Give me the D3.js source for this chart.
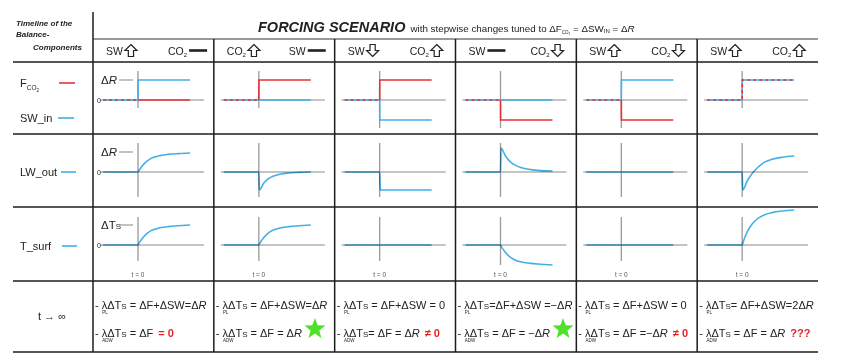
<!DOCTYPE html>
<html>
<head>
<meta charset="utf-8">
<script src="https://cdn.jsdelivr.net/npm/d3@7"></script>
<style>
body { margin: 0; background: #fff; }
text { font-family: "Liberation Sans", Arial, sans-serif; fill: #222; }
.formula { font-size: 11px; }
.curve { fill: none; stroke-width: 1.6; }
.blend { mix-blend-mode: multiply; }
</style>
</head>
<body>
<svg id="chart" width="842" height="364"></svg>
<script>
// column headers: what SW and CO2 do in each scenario
const headFirst = ['SW', 'CO2', 'SW', 'SW', 'SW', 'SW']
const headFirstArrow = ['up', 'up', 'down', 'flat', 'up', 'up']
const headSecond = ['CO2', 'SW', 'CO2', 'CO2', 'CO2', 'CO2']
const headSecondArrow = ['flat', 'flat', 'up', 'down', 'down', 'up']

// forcing row (step functions), in units of ΔR
const tStep = [-3.5, 0, 0.01, 5.2]
const swIn = [
    [0, 0, 1, 1], [0, 0, 0, 0], [0, 0, -1, -1],
    [0, 0, 0, 0], [0, 0, 1, 1], [0, 0, 1, 1]
]
const fCo2 = [
    [0, 0, 0, 0], [0, 0, 1, 1], [0, 0, 1, 1],
    [0, 0, -1, -1], [0, 0, -1, -1], [0, 0, 1, 1]
]

// response rows
const tCurve = [-3.5, 0, 0.05, 0.5, 1, 1.5, 2.2, 3, 4, 5.2]
const lwOut = [
    [0, 0, 0.04, 0.35, 0.58, 0.72, 0.82, 0.88, 0.92, 0.95],
    [0, 0, -0.9, -0.55, -0.32, -0.2, -0.1, -0.05, -0.02, 0],
    [0, 0, -0.9, -0.9, -0.9, -0.9, -0.9, -0.9, -0.9, -0.9],
    [0, 0, 1.2, 0.8, 0.5, 0.33, 0.2, 0.12, 0.07, 0.05],
    [0, 0, 0, 0, 0, 0, 0, 0, 0, 0],
    [0, 0, -0.9, -0.45, -0.08, 0.2, 0.48, 0.64, 0.74, 0.8]
]
const tSurf = [
    [0, 0, 0.05, 0.38, 0.62, 0.76, 0.86, 0.92, 0.96, 1.0],
    [0, 0, 0.05, 0.38, 0.62, 0.76, 0.86, 0.92, 0.96, 1.0],
    [0, 0, 0, 0, 0, 0, 0, 0, 0, 0],
    [0, 0, -0.05, -0.38, -0.62, -0.76, -0.86, -0.92, -0.96, -1.0],
    [0, 0, 0, 0, 0, 0, 0, 0, 0, 0],
    [0, 0, 0.08, 0.65, 1.05, 1.3, 1.5, 1.62, 1.7, 1.75]
]

// t -> infinity balance
const balanceTop = [' = ΔF+ΔSW=ΔR', ' = ΔF+ΔSW=ΔR', ' = ΔF+ΔSW = 0', '=ΔF+ΔSW =−ΔR', ' = ΔF+ΔSW = 0', '= ΔF+ΔSW=2ΔR']
const balanceBottom = [' = ΔF', ' = ΔF = ΔR', '= ΔF = ΔR', ' = ΔF = −ΔR', ' = ΔF =−ΔR', ' = ΔF = ΔR']
const verdicts = ['= 0', 'star', '≠ 0', 'star', '≠ 0', '???']

const BLUE = '#41b0e6', RED = '#e4323a', GRID = '#1c1c1c'

const svg = d3.select('#chart')
const col = d3.scaleBand().domain(d3.range(6)).range([93, 818])
const rowTops = [62, 134, 207]
const rowLines = [62, 134, 207, 281, 352]

// grid
svg.selectAll('.hline').data(rowLines).enter().append('line')
    .attr('x1', 13).attr('x2', 818).attr('y1', d => d).attr('y2', d => d)
    .attr('stroke', GRID).attr('stroke-width', 1.5)
svg.append('line').attr('x1', 93).attr('x2', 818).attr('y1', 39).attr('y2', 39)
    .attr('stroke', '#777').attr('stroke-width', 1.5)
svg.append('line').attr('x1', 93).attr('x2', 93).attr('y1', 12).attr('y2', 352)
    .attr('stroke', GRID).attr('stroke-width', 1.5)
svg.selectAll('.vline').data(d3.range(1, 6)).enter().append('line')
    .attr('x1', d => col(d)).attr('x2', d => col(d)).attr('y1', 39).attr('y2', 352)
    .attr('stroke', GRID).attr('stroke-width', 1.5)

// title
const title = svg.append('text').attr('x', 258).attr('y', 32)
title.append('tspan').attr('font-size', 14.5).attr('font-weight', 'bold').attr('font-style', 'italic')
    .text('FORCING SCENARIO')
title.append('tspan').attr('font-size', 9.8).attr('dx', 5).text('with stepwise changes tuned to ΔF')
title.append('tspan').attr('font-size', 4.5).attr('dy', 2).text('CO₂')
title.append('tspan').attr('font-size', 9.8).attr('dy', -2).text(' = ΔSW')
title.append('tspan').attr('font-size', 6).attr('dy', 1).text('IN')
title.append('tspan').attr('font-size', 9.8).attr('dy', -1).text(' = Δ')
title.append('tspan').attr('font-size', 9.8).attr('font-style', 'italic').text('R')

// top-left caption
const caption = svg.append('g').attr('font-weight', 'bold').attr('font-style', 'italic')
caption.append('text').attr('x', 16).attr('y', 26).attr('font-size', 8).text('Timeline of the')
caption.append('text').attr('x', 16).attr('y', 37).attr('font-size', 8).text('Balance-')
caption.append('text').attr('x', 33).attr('y', 50).attr('font-size', 8).text('Components')

// header arrows
function arrow (g, cx, cy, dir) {
    if (dir === 'flat') {
        g.append('rect').attr('x', cx - 9).attr('y', cy - 1.3).attr('width', 18).attr('height', 2.6).attr('fill', '#222')
        return
    }
    const s = dir === 'up' ? 1 : -1
    const pts = [[0, -6], [6, 0], [2.6, 0], [2.6, 6], [-2.6, 6], [-2.6, 0], [-6, 0]]
    g.append('polygon')
        .attr('points', pts.map(p => `${cx + p[0]},${cy + s * p[1]}`).join(' '))
        .attr('fill', '#fff').attr('stroke', '#222').attr('stroke-width', 1.2)
}

function headLabel (g, x, label, dir) {
    const t = g.append('text').attr('x', x).attr('y', 55).attr('font-size', 10.5)
    if (label === 'CO2') {
        t.append('tspan').text('CO')
        t.append('tspan').attr('font-size', 6).attr('dy', 1.5).text('2')
    } else {
        t.text(label)
    }
    const end = x + t.node().getComputedTextLength()
    arrow(g, end + (dir === 'flat' ? 11 : 8), 50.5, dir)
}

d3.range(6).forEach(c => {
    const g = svg.append('g')
    headLabel(g, col(c) + 13, headFirst[c], headFirstArrow[c])
    headLabel(g, col(c) + 75, headSecond[c], headSecondArrow[c])
})

// row labels
function rowLabel (x, y, parts, lineX, color) {
    const t = svg.append('text').attr('x', x).attr('y', y).attr('font-size', 11)
    parts.forEach(p => t.append('tspan').attr('font-size', p.size || 11).attr('dy', p.dy || 0).text(p.text))
    svg.append('line').attr('x1', lineX[0]).attr('x2', lineX[1]).attr('y1', y - 4).attr('y2', y - 4)
        .attr('stroke', color).attr('stroke-width', 1.6)
}
rowLabel(20, 87, [{ text: 'F' }, { text: 'CO', size: 6.5, dy: 3 }, { text: '2', size: 4.5, dy: 1.5 }], [59, 75], RED)
rowLabel(20, 122, [{ text: 'SW_in' }], [58, 74], BLUE)
rowLabel(20, 176, [{ text: 'LW_out' }], [61, 76], BLUE)
rowLabel(20, 250, [{ text: 'T_surf' }], [62, 77], BLUE)

const tInf = svg.append('text').attr('x', 52).attr('y', 320).attr('text-anchor', 'middle').attr('font-size', 11)
tInf.text('t → ∞')

// panels
const rowAxis = [[-0.35, 1.45], [-1.25, 1.45], [-0.8, 1.4]]
const rowPad = [0.4, 0.3, 0]

function panel (c, r, series) {
    const left = col(c), top = rowTops[r]
    const x = d3.scaleLinear().domain([-3.8, 6.6]).range([left + 7, left + 111])
    const y = d3.scaleLinear().domain([-1, 1]).range([top + 58, top + 18])
    const g = svg.append('g')
    const lo = Math.min(rowAxis[r][0], d3.min(series, s => d3.min(s.values, d => d[1])) - rowPad[r])

    g.append('line').attr('x1', x.range()[0]).attr('x2', x.range()[1]).attr('y1', y(0)).attr('y2', y(0))
        .attr('stroke', '#c4c4c4').attr('stroke-width', 2)
    g.append('line').attr('x1', x(0)).attr('x2', x(0)).attr('y1', y(rowAxis[r][1])).attr('y2', y(lo))
        .attr('stroke', '#9a9a9a').attr('stroke-width', 1.3)

    const line = d3.line().x(d => x(d[0])).y(d => y(d[1]))
    series.forEach(s => {
        g.append('path').attr('class', r > 0 ? 'curve blend' : 'curve').datum(s.values)
            .attr('d', line.curve(s.smooth ? d3.curveMonotoneX : d3.curveLinear))
            .attr('stroke', s.color)
            .attr('stroke-dasharray', s.dash ? '3,3' : null)
    })

    if (c === 0) {
        g.append('text').attr('x', left + 4).attr('y', y(0) + 2.5).attr('font-size', 7).text('0')
        const lab = g.append('text').attr('x', left + 8).attr('y', y(1) + 4).attr('font-size', 11.5)
        lab.append('tspan').text('Δ')
        if (r < 2) {
            lab.append('tspan').attr('font-style', 'italic').text('R')
        } else {
            lab.append('tspan').text('T')
            lab.append('tspan').attr('font-size', 8).text('S')
        }
        g.append('line').attr('x1', left + 26).attr('x2', left + 40).attr('y1', y(1)).attr('y2', y(1))
            .attr('stroke', '#9a9a9a').attr('stroke-width', 1.2)
    }
    if (r === 2) {
        g.append('text').attr('x', x(0)).attr('y', 277).attr('text-anchor', 'middle')
            .attr('font-size', 6.5).style('fill', '#555').text('t = 0')
    }
}

d3.range(6).forEach(c => {
    const sw = tStep.map((t, i) => [t, swIn[c][i]])
    const co = tStep.map((t, i) => [t, fCo2[c][i]])
    const same = swIn[c].every((v, i) => v === fCo2[c][i])
    const forcing = [{ values: sw, color: BLUE }]
    if (same) {
        forcing.push({ values: co, color: RED, dash: true })
    } else {
        forcing.push({ values: co.slice(1), color: RED })
        forcing.push({ values: co.slice(0, 2), color: RED, dash: true })
    }
    panel(c, 0, forcing)
    panel(c, 1, [{ values: tCurve.map((t, i) => [t, lwOut[c][i]]), color: BLUE, smooth: true }])
    panel(c, 2, [{ values: tCurve.map((t, i) => [t, tSurf[c][i]]), color: BLUE, smooth: true }])
})

// balance formulas at t -> infinity
function star (cx, cy, r) {
    const pts = d3.range(10).map(i => {
        const a = -Math.PI / 2 + i * Math.PI / 5
        const rr = i % 2 ? r * 0.42 : r
        return `${cx + rr * Math.cos(a)},${cy + rr * Math.sin(a)}`
    })
    svg.append('polygon').attr('points', pts.join(' ')).attr('fill', '#4fe02a')
}

function formula (x, y, sub, rest, verdict, maxWidth) {
    const text = svg.append('text').attr('class', 'formula').attr('x', x).attr('y', y)
    text.append('tspan').text('- λ')
    text.append('tspan').text('ΔT')
    text.append('tspan').attr('font-size', 8).text('S')
    const parts = rest.split('R')
    parts.forEach((part, i) => {
        text.append('tspan').text(part)
        if (i < parts.length - 1) text.append('tspan').attr('font-style', 'italic').text('R')
    })
    if (verdict && verdict !== 'star') {
        text.append('tspan').attr('dx', 5).attr('font-weight', 'bold').style('fill', '#e82020').text(verdict)
    }
    // squeeze lines that would run into the next column
    if (text.node().getComputedTextLength() > maxWidth) {
        text.attr('textLength', maxWidth).attr('lengthAdjust', 'spacingAndGlyphs')
    }
    const lam = text.node().getStartPositionOfChar(2)
    svg.append('text').attr('x', lam.x + 0.5).attr('y', y + 5).attr('font-size', 4.5).text(sub)
    if (verdict === 'star') {
        const end = x + text.node().getComputedTextLength()
        star(end + 13, y - 8, 11)
    }
}

d3.range(6).forEach(c => {
    const w = col.bandwidth() - 6
    formula(col(c) + 2, 309, 'PL', balanceTop[c], null, w)
    formula(col(c) + 2, 337, 'ADW', balanceBottom[c], verdicts[c], w)
})
</script>
</body>
</html>
